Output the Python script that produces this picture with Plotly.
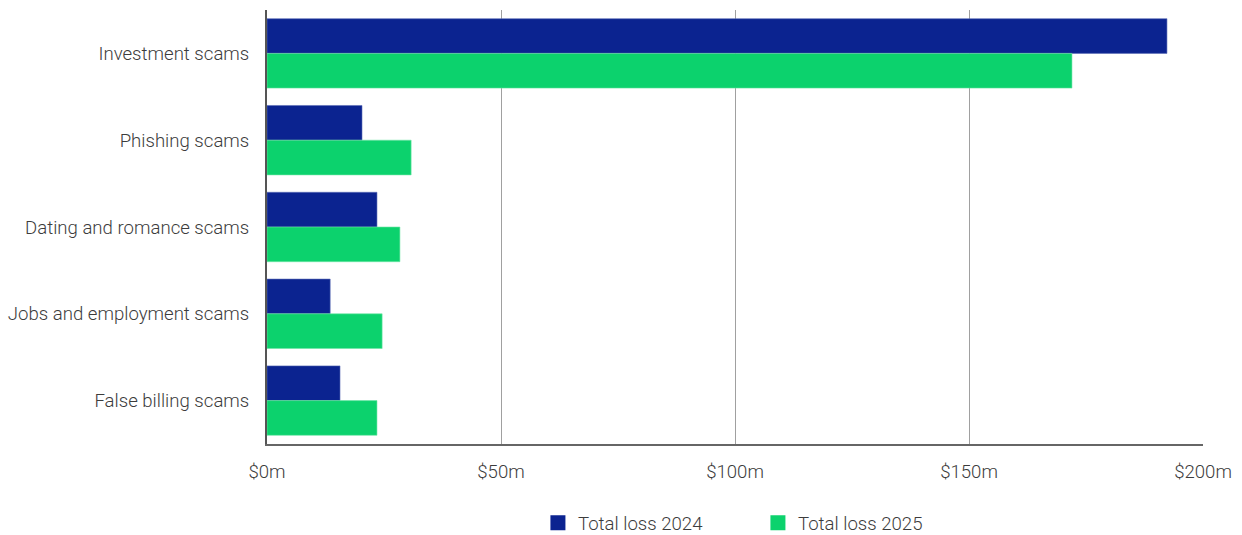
import plotly.graph_objects as go

# Scam categories (top to bottom) and total losses in $ millions
categories = [
    "Investment scams",
    "Phishing scams",
    "Dating and romance scams",
    "Jobs and employment scams",
    "False billing scams",
]
loss_2024 = [192.3, 20.3, 23.5, 13.5, 15.6]
loss_2025 = [172.0, 30.8, 28.4, 24.6, 23.5]
series_names = ["Total loss 2024", "Total loss 2025"]

tick_values = [0, 50, 100, 150, 200]
tick_labels = ["$0m", "$50m", "$100m", "$150m", "$200m"]

navy = "#0b2390"
green = "#0cd26d"
font_family = "Roboto, 'Noto Sans', sans-serif"
text_font = dict(family=font_family, size=18.6, color="#3c3c3c", weight=300)

fig = go.Figure()
fig.add_trace(go.Bar(
    y=categories, x=loss_2024, orientation="h", name=series_names[0],
    marker=dict(color=navy, line=dict(color="#5a6bb5", width=0.6)),
    showlegend=False, legendgroup="y2024",
))
fig.add_trace(go.Bar(
    y=categories, x=loss_2025, orientation="h", name=series_names[1],
    marker=dict(color=green, line=dict(color="#6fe6a6", width=0.6)),
    showlegend=False, legendgroup="y2025",
))

# Legend entries with larger square swatches
for name, color, group in zip(series_names, [navy, green], ["y2024", "y2025"]):
    fig.add_trace(go.Scatter(
        x=[None], y=[None], mode="markers", name=name, legendgroup=group,
        marker=dict(symbol="square", size=15, color=color),
        hoverinfo="skip",
    ))

fig.update_layout(
    width=1242, height=535,
    margin=dict(l=267, r=39, t=10, b=91, autoexpand=False),
    paper_bgcolor="white", plot_bgcolor="white",
    barmode="group", bargap=0.2, bargroupgap=0,
    font=text_font,
    showlegend=True,
    legend=dict(
        orientation="h", x=0.5245, xanchor="center",
        yref="container", y=0.022, yanchor="middle",
        font=text_font, traceorder="normal",
        itemwidth=30, entrywidth=175,
    ),
)

fig.update_xaxes(
    range=[0, 200], tickvals=tick_values, ticktext=tick_labels,
    showgrid=True, gridcolor="#a0a0a0", gridwidth=1,
    showline=True, linecolor="#666666", linewidth=2,
    zeroline=False, ticks="", ticklabelstandoff=10,
    tickfont=text_font, mirror=False, automargin=False,
)
fig.update_yaxes(
    autorange="reversed", showgrid=False,
    showline=True, linecolor="#555555", linewidth=2,
    ticks="", ticklabelstandoff=12, automargin=False,
    tickfont=text_font,
)

fig.write_html("out.html")
